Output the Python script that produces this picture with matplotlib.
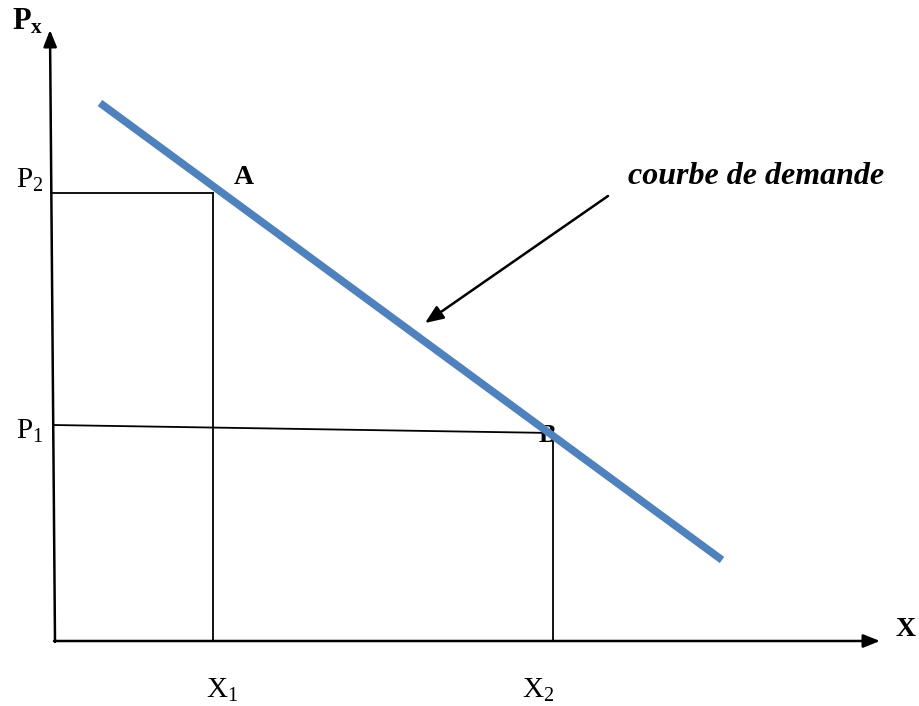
import matplotlib.pyplot as plt

# everything in pixel coords of the 920x706 picture (y grows downward)
origin = (55, 641)
y_axis_top = (50, 30)
x_axis_end = (880, 641)

demand_x = [100, 722]
demand_y = [103, 560]

point_A = (213, 193)
point_B = (553, 433)
p1_left = (53, 425)

arrow_tail = (608, 196)
arrow_head = (425, 323)

labels = {
    "P$_2$": (16, 180),
    "P$_1$": (16, 431),
    "X$_1$": (206, 690),
    "X$_2$": (522, 690),
}

plt.rcParams['font.family'] = ['Liberation Serif', 'DejaVu Serif']
plt.rcParams['mathtext.fontset'] = 'custom'
plt.rcParams['mathtext.rm'] = 'Liberation Serif'
plt.rcParams['mathtext.it'] = 'Liberation Serif:italic'
plt.rcParams['mathtext.bf'] = 'Liberation Serif:bold'

fig = plt.figure(figsize=(9.2, 7.06), dpi=100)
ax = fig.add_axes([0, 0, 1, 1])
ax.set_xlim(0, 920)
ax.set_ylim(706, 0)
ax.axis('off')

# axes with arrowheads
ax.annotate("", xy=y_axis_top, xytext=(origin[0], origin[1] + 1),
            arrowprops=dict(arrowstyle="-|>,head_length=1.0,head_width=0.4",
                            color='black', lw=1.8, shrinkA=0, shrinkB=0))
ax.annotate("", xy=x_axis_end, xytext=(origin[0] - 1, origin[1]),
            arrowprops=dict(arrowstyle="-|>,head_length=1.0,head_width=0.4",
                            color='black', lw=1.8, shrinkA=0, shrinkB=0))

# guide lines
ax.plot([origin[0] - 2, point_A[0]], [point_A[1], point_A[1]], color='black', lw=1.3)
ax.plot([point_A[0], point_A[0]], [point_A[1], origin[1]], color='black', lw=1.3)
ax.plot([p1_left[0], point_B[0]], [p1_left[1], point_B[1]], color='black', lw=1.3)
ax.plot([point_B[0], point_B[0]], [point_B[1], origin[1]], color='black', lw=1.3)

# B sits under the curve
ax.text(point_B[0] - 6, point_B[1] + 2, "B", fontsize=19, fontweight='bold',
        ha='center', va='center', zorder=1)

ax.plot(demand_x, demand_y, color='#4F81BD', lw=5.5, solid_capstyle='butt', zorder=3)

ax.text(point_A[0] + 31, 177, "A", fontsize=20, fontweight='bold', ha='center', va='center')

for txt, (x, y) in labels.items():
    ax.text(x, y, txt, fontsize=21, ha='left', va='center')

ax.text(12, 22, "$\\mathbf{P}_\\mathbf{x}$", fontsize=22, ha='left', va='center')
ax.text(896, 629, "X", fontsize=20, fontweight='bold', ha='left', va='center')

ax.text(628, 176, "courbe de demande", fontsize=23, fontweight='bold', style='italic',
        ha='left', va='center')
ax.annotate("", xy=arrow_head, xytext=arrow_tail,
            arrowprops=dict(arrowstyle="-|>,head_length=1.1,head_width=0.45",
                            color='black', lw=1.8, shrinkA=0, shrinkB=0))

fig.savefig("out.png", dpi=100)
